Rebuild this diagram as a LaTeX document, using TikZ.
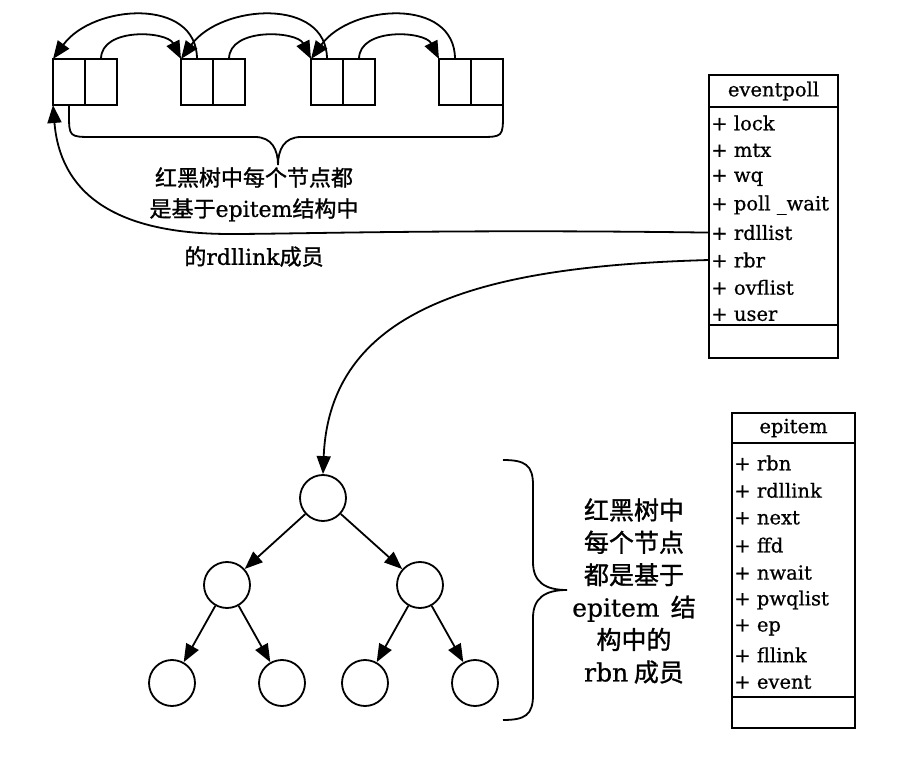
\documentclass[tikz,border=0pt]{standalone}
\usepackage{fontspec}
\setmainfont{DejaVu Serif}[FakeBold=0.7]
\newfontfamily\cjk{Noto Sans CJK SC}[FakeBold=1.2]
\newfontfamily\lat{DejaVu Serif}[FakeBold=0.7]
\usetikzlibrary{positioning,arrows.meta}

\begin{document}
\begin{tikzpicture}[x=1pt, y=-1pt, line width=1.8pt,
  cell/.style={draw, minimum width=32pt, minimum height=46pt, inner sep=0pt, outer sep=0pt},
  umlbox/.style={draw, minimum width=129pt, inner sep=0pt, outer sep=0pt, font=\fontsize{19.5}{22}\selectfont},
  umlrow/.style={anchor=west, inner sep=1.5pt, font=\fontsize{19.5}{22}\selectfont},
  rbnode/.style={draw, circle, minimum size=46pt, inner sep=0pt},
  link/.style={-{Triangle[length=18pt,width=14pt]}}]
\useasboundingbox (0,0) rectangle (903,767);

% doubly linked list of rdllink
\foreach \i/\x in {1/53,2/181,3/311,4/439} {
  \node[cell, anchor=north west] (la\i) at (\x,59) {};
  \node[cell, anchor=west] (lb\i) at (la\i.east) {};
}
\foreach \i/\j in {1/2,2/3,3/4} {
  \draw[link] (lb\i.north) .. controls +(0,-32) and +(-14,-28) .. (la\j.north west);
  \draw[link] (la\j.north) .. controls +(0,-62) and +(40,-55) .. (la\i.north west);
}
\coordinate (bracetip) at (278,165);
\draw (la1.south) -- ++(0,8) .. controls +(0,24) and +(-24,0) .. (93,137) -- (255,137)
  .. controls +(17,0) and +(0,-15) .. (bracetip);
\draw (lb4.south east) -- ++(0,8) .. controls +(0,24) and +(24,0) .. (479,137) -- (301,137)
  .. controls +(-17,0) and +(0,-15) .. (bracetip);
\node[align=center, font=\cjk\fontsize{22}{31}\selectfont] (rdlnote) at (254,217)
  {红黑树中每个节点都\\是基于{\lat epitem}结构中\\[17pt]的{\lat rdllink}成员};

% struct eventpoll
\node[umlbox, minimum height=32pt] (evhead) at (773.5,91) {eventpoll};
\node[umlbox, minimum height=218pt, below=0pt of evhead] (evbody) {};
\node[umlbox, minimum height=33pt, below=0pt of evbody] (evfoot) {};
\foreach \f [count=\i] in {lock,mtx,wq,poll \_wait,rdllist,rbr,ovflist,user}
  \node[umlrow] (ev\i) at ([yshift=-16pt-27.4pt*(\i-1)] evbody.north west) {+ \f};

% struct epitem
\node[umlbox, minimum width=123pt, minimum height=30pt] (eihead) at (793.5,428) {epitem};
\node[umlbox, minimum width=123pt, minimum height=254pt, below=0pt of eihead] (eibody) {};
\node[umlbox, minimum width=123pt, minimum height=31pt, below=0pt of eibody] (eifoot) {};
\foreach \f [count=\i] in {rbn,rdllink,next,ffd,nwait,pwqlist,ep,fllink,event}
  \node[umlrow] (ei\i) at ([yshift=-20pt-27.4pt*(\i-1)] eibody.north west) {+ \f};

% red-black tree
\node[rbnode] (t0) at (323,498) {};
\node[rbnode] (t1) at (227,585) {};
\node[rbnode] (t2) at (420,585) {};
\node[rbnode] (t3) at (172,683) {};
\node[rbnode] (t4) at (282,683) {};
\node[rbnode] (t5) at (365,683) {};
\node[rbnode] (t6) at (475,683) {};
\foreach \a/\b in {t0/t1,t0/t2,t1/t3,t1/t4,t2/t5,t2/t6}
  \draw[link] (\a) -- (\b);
\draw (503,460) .. controls +(22,0) and +(0,-20) .. (533,485) -- (533,562)
  .. controls +(0,20) and +(-22,0) .. (567,590)
  .. controls +(-22,0) and +(0,-20) .. (533,618) -- (533,695)
  .. controls +(0,20) and +(22,0) .. (503,720);
\node[align=center, font=\cjk\fontsize{25}{32.4}\selectfont] (rbnnote) at (634,591)
  {红黑树中\\每个节点\\都是基于\\{\lat epitem}\ \ 结\\构中的\\{\lat rbn} 成员};

% links from eventpoll
\draw[link] (ev5.west) .. controls (450,229) and (300,234) .. (230,234)
  .. controls (110,234) and (60,190) .. (la1.south west);
\draw[link] (ev6.west) .. controls (500,266) and (330,300) .. (t0.north);
\end{tikzpicture}
\end{document}
